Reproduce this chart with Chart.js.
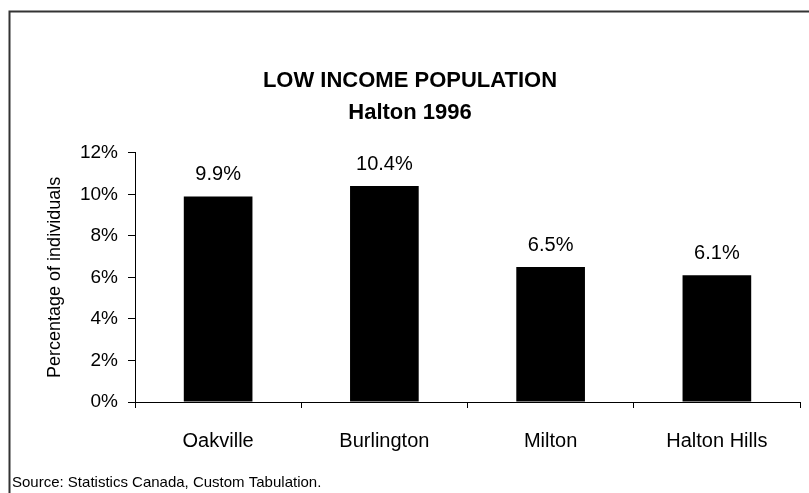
<!DOCTYPE html>
<html>
<head>
<meta charset="utf-8">
<script src="https://cdn.jsdelivr.net/npm/chart.js@4.4.1/dist/chart.umd.min.js"></script>
<style>
  html, body { margin: 0; padding: 0; background: #fff; }
  #wrap { position: relative; width: 809px; height: 493px; }
</style>
</head>
<body>
<div id="wrap"><canvas id="chart"></canvas></div>
<script>
// Данные графика
const categories = ['Oakville', 'Burlington', 'Milton', 'Halton Hills'];
const lowIncomePct = [9.9, 10.4, 6.5, 6.1];
const titleLines = ['LOW INCOME POPULATION', 'Halton 1996'];
const yAxisTitle = 'Percentage of individuals';
const sourceNote = 'Source: Statistics Canada, Custom Tabulation.';

const FONT = "'Liberation Sans', Arial, sans-serif";

// Рамка и подпись источника
const framePlugin = {
  id: 'frame',
  beforeDraw(chart) {
    const ctx = chart.ctx;
    ctx.save();
    ctx.fillStyle = '#fff';
    ctx.fillRect(0, 0, chart.width, chart.height);
    ctx.strokeStyle = '#333';
    ctx.lineWidth = 2;
    ctx.beginPath();
    ctx.moveTo(9.5, chart.height);
    ctx.lineTo(9.5, 11.5);
    ctx.lineTo(chart.width, 11.5);
    ctx.stroke();
    ctx.restore();
  },
  afterDraw(chart) {
    const ctx = chart.ctx;
    ctx.save();
    ctx.fillStyle = '#000';
    ctx.font = '15px ' + FONT;
    ctx.textAlign = 'left';
    ctx.textBaseline = 'middle';
    ctx.fillText(sourceNote, 12, 483);
    ctx.restore();
  },
};

// Подписи значений над столбцами
const valueLabelPlugin = {
  id: 'valueLabels',
  afterDatasetsDraw(chart) {
    const ctx = chart.ctx;
    const meta = chart.getDatasetMeta(0);
    ctx.save();
    ctx.fillStyle = '#000';
    ctx.font = '20px ' + FONT;
    ctx.textAlign = 'center';
    ctx.textBaseline = 'middle';
    meta.data.forEach((bar, i) => {
      ctx.fillText(lowIncomePct[i].toFixed(1) + '%', bar.x, bar.y - 22);
    });
    ctx.restore();
  },
};

new Chart(document.getElementById('chart').getContext('2d'), {
  type: 'bar',
  data: {
    labels: categories,
    datasets: [{
      data: lowIncomePct,
      backgroundColor: '#000',
      borderWidth: 0,
      categoryPercentage: 1,
      barPercentage: 0.413,
    }],
  },
  options: {
    animation: false,
    responsive: true,
    maintainAspectRatio: false,
    layout: { padding: { left: 20, right: 9, top: 65, bottom: 40 } },
    plugins: {
      legend: { display: false },
      tooltip: { enabled: false },
      title: {
        display: true,
        text: titleLines,
        color: '#000',
        font: { family: FONT, size: 22, weight: 'bold', lineHeight: 1.45 },
        padding: { top: 0, bottom: 24 },
      },
    },
    scales: {
      x: {
        grid: { display: true, drawOnChartArea: false, drawTicks: true, tickLength: 6, color: '#000', offset: true },
        border: { display: true, color: '#000', width: 1 },
        ticks: { color: '#000', font: { family: FONT, size: 20 }, padding: 21, maxRotation: 0 },
        afterFit: (scale) => { scale.height = 51; },
      },
      y: {
        min: 0,
        max: 12,
        ticks: {
          stepSize: 2,
          color: '#000',
          font: { family: FONT, size: 19 },
          padding: 10,
          callback: (v) => v + '%',
        },
        grid: { display: true, drawOnChartArea: false, drawTicks: true, tickLength: 7, color: '#000' },
        border: { display: true, color: '#000', width: 1 },
        title: {
          display: true,
          text: yAxisTitle,
          color: '#000',
          font: { family: FONT, size: 18 },
          padding: { top: 24, bottom: 0 },
        },
        afterFit: (scale) => { scale.width = 115; },
      },
    },
  },
  plugins: [framePlugin, valueLabelPlugin],
});
</script>
</body>
</html>
